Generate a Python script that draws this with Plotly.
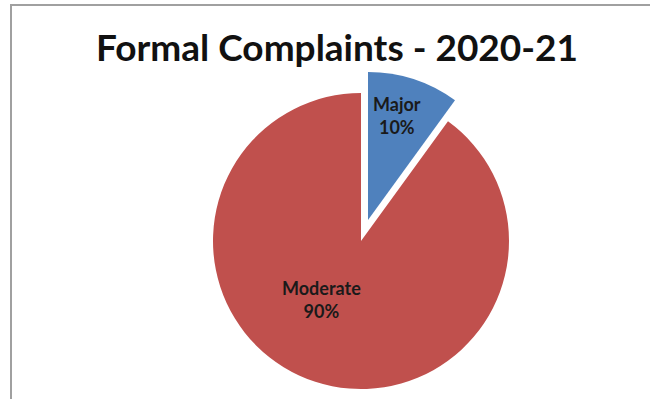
import plotly.graph_objects as go

# ---- data ----
categories = ["Major", "Moderate"]
values = [10, 90]
colors = ["#4F81BD", "#C0504D"]
title_text = "Formal Complaints - 2020-21"

W, H = 650, 399

def dom(cx, cy, r):
    return dict(x=[(cx - r) / W, (cx + r) / W], y=[1 - (cy + r) / H, 1 - (cy - r) / H])

cx, cy, r = 361, 241, 148
dx, dy = 7, -21  # exploded slice offset (pixels)

fig = go.Figure()
# main pie (Moderate visible)
fig.add_trace(go.Pie(
    labels=categories, values=values, sort=False, direction="clockwise", rotation=0,
    marker=dict(colors=["rgba(0,0,0,0)", colors[1]], line=dict(width=0)),
    textinfo="none", hoverinfo="label+percent", showlegend=False,
    domain=dom(cx, cy, r),
))
# exploded slice (Major)
fig.add_trace(go.Pie(
    labels=categories, values=values, sort=False, direction="clockwise", rotation=0,
    marker=dict(colors=[colors[0], "rgba(0,0,0,0)"], line=dict(width=0)),
    textinfo="none", hoverinfo="label+percent", showlegend=False,
    domain=dom(cx + dx, cy + dy, r),
))

total = sum(values)
label_pos = [(397, 115), (321, 299)]
annotations = []
for cat, v, (lx, ly) in zip(categories, values, label_pos):
    annotations.append(dict(
        x=lx / W, y=1 - ly / H, xref="paper", yref="paper",
        xanchor="center", yanchor="middle",
        text=f"<b>{cat}<br>{round(100 * v / total)}%</b>", showarrow=False,
        font=dict(family="Lato", size=18, color="#1a1a1a"), align="center",
    ))

fig.update_layout(
    width=W, height=H, margin=dict(l=0, r=0, t=0, b=0),
    paper_bgcolor="white", plot_bgcolor="white",
    title=dict(text=f"<b>{title_text}</b>", x=337 / W, xanchor="center",
               y=1 - 48 / H, yanchor="middle",
               font=dict(family="Lato", size=37, color="#111111")),
    annotations=annotations,
    shapes=[dict(type="rect", xref="paper", yref="paper",
                 x0=11 / W, y0=-0.2, x1=1.2, y1=1 - 5 / H,
                 line=dict(color="#a0a0a0", width=2), layer="below")],
)

fig.write_html("out.html")
